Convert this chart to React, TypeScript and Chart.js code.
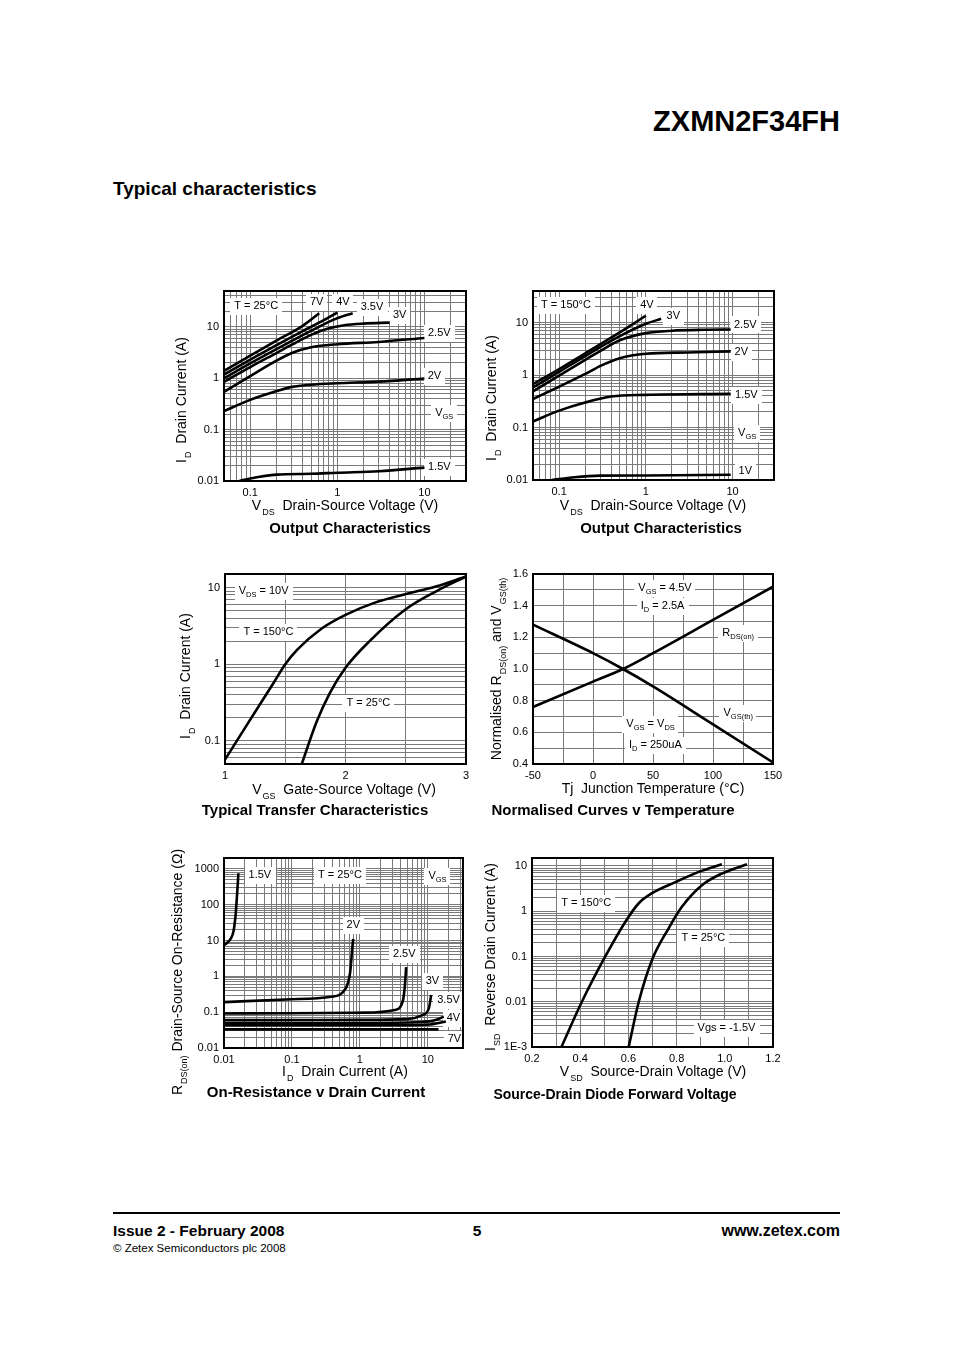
import React, { useEffect, useRef } from 'react';
import { Chart, registerables } from 'chart.js';

Chart.register(...registerables);

const FONT = '"Liberation Sans", Arial, Helvetica, sans-serif';
const GRID_COLOR = '#7a7a7a';

// ---------------- Output Characteristics, T = 25°C ----------------
const out25Vds7V = [0.05, 0.1, 0.2, 0.4, 0.62];
const out25Id7V = [1.4, 2.75, 5.4, 10.5, 18.5];
const out25Vds4V = [0.05, 0.1, 0.2, 0.4, 0.7, 1.0];
const out25Id4V = [1.18, 2.3, 4.4, 8.3, 13.5, 19];
const out25Vds35V = [0.05, 0.1, 0.2, 0.4, 0.7, 1.0, 1.5];
const out25Id35V = [1.0, 1.95, 3.7, 6.9, 11.2, 14.8, 18.5];
const out25Vds3V = [0.05, 0.1, 0.2, 0.3, 0.5, 0.8, 1.2, 2, 4];
const out25Id3V = [0.85, 1.65, 3.1, 4.5, 7.0, 9.4, 10.8, 11.6, 12.1];
const out25Vds25V = [0.05, 0.1, 0.2, 0.3, 0.5, 1, 3, 10];
const out25Id25V = [0.545, 1.1, 2.2, 3.1, 4.0, 4.6, 5.1, 6.1];
const out25Vds2V = [0.05, 0.1, 0.2, 0.3, 0.5, 1, 3, 10];
const out25Id2V = [0.23, 0.38, 0.56, 0.68, 0.75, 0.8, 0.86, 0.99];
const out25Vds15V = [0.075, 0.1, 0.2, 0.5, 1, 3, 10];
const out25Id15V = [0.01, 0.0112, 0.0133, 0.0138, 0.0145, 0.0155, 0.0182];
const out25XTicks = [0.1, 1, 10];
const out25XTickLabels = ['0.1', '1', '10'];
const out25YTicks = [0.01, 0.1, 1, 10];
const out25YTickLabels = ['0.01', '0.1', '1', '10'];

// ---------------- Output Characteristics, T = 150°C ----------------
const out150Vds4V = [0.05, 0.1, 0.2, 0.5, 1.0];
const out150Id4V = [0.67, 1.3, 2.6, 6.5, 13.5];
const out150Vds3V = [0.05, 0.1, 0.2, 0.5, 1.0, 1.5];
const out150Id3V = [0.58, 1.15, 2.3, 5.5, 9.5, 11.8];
const out150Vds25V = [0.05, 0.1, 0.2, 0.3, 0.5, 1, 2, 5, 9.5];
const out150Id25V = [0.49, 0.98, 1.95, 2.9, 4.6, 6.3, 7.0, 7.3, 7.4];
const out150Vds2V = [0.05, 0.1, 0.2, 0.3, 0.5, 1, 3, 9.5];
const out150Id2V = [0.35, 0.6, 1.05, 1.5, 2.1, 2.55, 2.7, 2.83];
const out150Vds15V = [0.05, 0.1, 0.2, 0.4, 1, 9.5];
const out150Id15V = [0.13, 0.21, 0.3, 0.39, 0.42, 0.44];
const out150Vds1V = [0.082, 0.15, 0.3, 1, 9.5];
const out150Id1V = [0.01, 0.0113, 0.0121, 0.0122, 0.0126];
const out150XTicks = [0.1, 1, 10];
const out150XTickLabels = ['0.1', '1', '10'];
const out150YTicks = [0.01, 0.1, 1, 10];
const out150YTickLabels = ['0.01', '0.1', '1', '10'];

// ---------------- Typical Transfer Characteristics ----------------
const trVgs150 = [1.0, 1.2, 1.4, 1.5, 1.6, 1.8, 2.0, 2.25, 2.5, 2.75, 3.0];
const trId150 = [0.057, 0.18, 0.56, 1.0, 1.55, 2.9, 4.4, 6.4, 8.2, 10.3, 13.9];
const trVgs25 = [1.637, 1.762, 1.873, 2.0, 2.2, 2.5, 2.76, 3.0];
const trId25 = [0.05, 0.18, 0.43, 0.9, 2.0, 5.2, 9.05, 13.9];
const trXTicks = [1, 2, 3];
const trXTickLabels = ['1', '2', '3'];
const trYTicks = [0.1, 1, 10];
const trYTickLabels = ['0.1', '1', '10'];

// ---------------- Normalised Curves v Temperature ----------------
const normTj = [-50, 0, 25, 50, 100, 150];
const normRdsOn = [0.76, 0.92, 1.0, 1.1, 1.31, 1.52];
const normVgsTh = [1.28, 1.1, 1.0, 0.89, 0.65, 0.41];
const normXTicks = [-50, 0, 50, 100, 150];
const normXTickLabels = ['-50', '0', '50', '100', '150'];
const normYTicks = [0.4, 0.6, 0.8, 1.0, 1.2, 1.4, 1.6];
const normYTickLabels = ['0.4', '0.6', '0.8', '1.0', '1.2', '1.4', '1.6'];

// ---------------- On-Resistance v Drain Current ----------------
const rdsId15V = [0.01, 0.011, 0.0125, 0.0138, 0.0148, 0.0156, 0.0163];
const rdsR15V = [7.3, 8.5, 11, 18, 50, 200, 750];
const rdsId2V = [0.01, 0.1, 0.38, 0.6, 0.72, 0.78, 0.8];
const rdsR2V = [0.19, 0.23, 0.27, 0.42, 1.3, 7.3, 11];
const rdsId25V = [0.01, 0.1, 1.2, 3.3, 4.3, 4.6, 4.8];
const rdsR25V = [0.092, 0.093, 0.097, 0.115, 0.21, 0.55, 1.8];
const rdsId3V = [0.01, 1, 5, 8, 10.4, 11.2];
const rdsR3V = [0.06, 0.061, 0.064, 0.08, 0.13, 0.3];
const rdsId35V = [0.01, 1, 8, 13, 17.2];
const rdsR35V = [0.05, 0.05, 0.053, 0.06, 0.075];
const rdsId4V = [0.01, 1, 10, 18.5];
const rdsR4V = [0.043, 0.043, 0.045, 0.055];
const rdsId7V = [0.01, 1, 14.4];
const rdsR7V = [0.033, 0.033, 0.033];
const rdsXTicks = [0.01, 0.1, 1, 10];
const rdsXTickLabels = ['0.01', '0.1', '1', '10'];
const rdsYTicks = [0.01, 0.1, 1, 10, 100, 1000];
const rdsYTickLabels = ['0.01', '0.1', '1', '10', '100', '1000'];

// ---------------- Source-Drain Diode Forward Voltage ----------------
const sdVsd150 = [0.322, 0.407, 0.504, 0.587, 0.643, 0.698, 0.795, 0.892, 0.988];
const sdIsd150 = [0.001, 0.01, 0.1, 0.58, 1.5, 2.5, 4.4, 7.4, 10.9];
const sdVsd25 = [0.601, 0.643, 0.698, 0.767, 0.822, 0.905, 0.988, 1.092];
const sdIsd25 = [0.001, 0.01, 0.084, 0.42, 1.25, 3.75, 6.8, 10.9];
const sdXTicks = [0.2, 0.4, 0.6, 0.8, 1.0, 1.2];
const sdXTickLabels = ['0.2', '0.4', '0.6', '0.8', '1.0', '1.2'];
const sdYTicks = [0.001, 0.01, 0.1, 1, 10];
const sdYTickLabels = ['1E-3', '0.01', '0.1', '1', '10'];

// ---------------- helpers ----------------
type Lbl = { x: number; y: number; t: string };
type Series = { x: number[]; y: number[] };
type AxisSpec = {
  type: 'linear' | 'logarithmic';
  min: number;
  max: number;
  grid: number[];
  ticks: number[];
  labels: string[];
};
type Spec = {
  area: [number, number, number, number];
  x: AxisSpec;
  y: AxisSpec;
  series: Series[];
  notes: Lbl[];
};

function logGrid(min: number, max: number): number[] {
  const out: number[] = [];
  for (let e = Math.floor(Math.log10(min)) - 1; e <= Math.ceil(Math.log10(max)); e++) {
    for (let k = 1; k <= 9; k++) {
      const v = parseFloat((k * Math.pow(10, e)).toPrecision(6));
      if (v >= min * (1 - 1e-9) && v <= max * (1 + 1e-9)) out.push(v);
    }
  }
  return out;
}
function linGrid(min: number, max: number, step: number): number[] {
  const out: number[] = [];
  for (let v = min; v <= max + 1e-9; v += step) out.push(parseFloat(v.toFixed(6)));
  return out;
}
function labelFor(value: number, vals: number[], labels: string[]): string {
  for (let i = 0; i < vals.length; i++) {
    if (Math.abs(vals[i] - value) <= 1e-9 + 1e-6 * Math.abs(vals[i])) return labels[i];
  }
  return '';
}
function pts(xs: number[], ys: number[]) {
  return xs.map((x, i) => ({ x, y: ys[i] }));
}
function splitSub(t: string) {
  const out: { s: string; sub: boolean; w: number }[] = [];
  const re = /_\{([^}]*)\}/g;
  let last = 0;
  let m: RegExpExecArray | null;
  while ((m = re.exec(t))) {
    if (m.index > last) out.push({ s: t.slice(last, m.index), sub: false, w: 0 });
    out.push({ s: m[1], sub: true, w: 0 });
    last = re.lastIndex;
  }
  if (last < t.length) out.push({ s: t.slice(last), sub: false, w: 0 });
  return out;
}
function drawRich(ctx: CanvasRenderingContext2D, text: string, cx: number, cy: number) {
  const parts = splitSub(text);
  const mainF = `11px ${FONT}`;
  const subF = `7.5px ${FONT}`;
  let w = 0;
  parts.forEach((p) => {
    ctx.font = p.sub ? subF : mainF;
    p.w = ctx.measureText(p.s).width;
    w += p.w;
  });
  ctx.fillStyle = '#fff';
  ctx.fillRect(Math.round(cx - w / 2 - 4), Math.round(cy - 8), Math.round(w + 8), 17);
  ctx.fillStyle = '#000';
  ctx.textBaseline = 'middle';
  ctx.textAlign = 'left';
  let x = cx - w / 2;
  parts.forEach((p) => {
    ctx.font = p.sub ? subF : mainF;
    ctx.fillText(p.s, x, p.sub ? cy + 4 : cy);
    x += p.w;
  });
}

const PAD_L = 56;
const PAD_T = 10;
const PAD_R = 18;
const PAD_B = 26;

function axisOptions(a: AxisSpec, isX: boolean) {
  return {
    type: a.type,
    min: a.min,
    max: a.max,
    grid: { color: GRID_COLOR, lineWidth: 1, drawTicks: false },
    border: { display: false },
    ticks: {
      autoSkip: false,
      maxRotation: 0,
      minRotation: 0,
      padding: 5,
      color: '#000',
      font: { family: FONT, size: 11 },
      callback: (v: any) => labelFor(Number(v), a.ticks, a.labels),
    },
    afterBuildTicks: (s: any) => {
      s.ticks = a.grid.map((v) => ({ value: v }));
    },
    afterFit: (s: any) => {
      if (isX) s.height = PAD_B;
      else s.width = PAD_L;
      s.paddingLeft = 0;
      s.paddingRight = 0;
      s.paddingTop = 0;
      s.paddingBottom = 0;
    },
  };
}

function buildConfig(spec: Spec): any {
  const overlay = {
    id: 'overlay',
    beforeDatasetsDraw(chart: any) {
      const ctx = chart.ctx as CanvasRenderingContext2D;
      ctx.save();
      spec.notes.forEach((n) =>
        drawRich(ctx, n.t, chart.scales.x.getPixelForValue(n.x), chart.scales.y.getPixelForValue(n.y))
      );
      ctx.restore();
    },
    afterDraw(chart: any) {
      const { left, top, right, bottom } = chart.chartArea;
      const ctx = chart.ctx as CanvasRenderingContext2D;
      ctx.save();
      ctx.strokeStyle = '#000';
      ctx.lineWidth = 2;
      ctx.strokeRect(left, top, right - left, bottom - top);
      ctx.restore();
    },
  };
  return {
    type: 'line',
    data: {
      datasets: spec.series.map((s) => ({
        data: pts(s.x, s.y),
        borderColor: '#000',
        borderWidth: 2.6,
        pointRadius: 0,
        fill: false,
        cubicInterpolationMode: 'monotone',
      })),
    },
    options: {
      responsive: false,
      maintainAspectRatio: false,
      animation: false,
      devicePixelRatio: 1,
      events: [],
      layout: { padding: { left: 0, top: PAD_T, right: PAD_R, bottom: 0 } },
      plugins: { legend: { display: false }, tooltip: { enabled: false }, title: { display: false } },
      scales: { x: axisOptions(spec.x, true), y: axisOptions(spec.y, false) },
    },
    plugins: [overlay],
  };
}

const specOut25: Spec = {
  area: [224, 291, 466, 481],
  x: { type: 'logarithmic', min: 0.05, max: 30, grid: logGrid(0.05, 30), ticks: out25XTicks, labels: out25XTickLabels },
  y: { type: 'logarithmic', min: 0.01, max: 50, grid: logGrid(0.01, 50), ticks: out25YTicks, labels: out25YTickLabels },
  series: [
    { x: out25Vds7V, y: out25Id7V },
    { x: out25Vds4V, y: out25Id4V },
    { x: out25Vds35V, y: out25Id35V },
    { x: out25Vds3V, y: out25Id3V },
    { x: out25Vds25V, y: out25Id25V },
    { x: out25Vds2V, y: out25Id2V },
    { x: out25Vds15V, y: out25Id15V },
  ],
  notes: [
    { x: 0.117, y: 25, t: 'T = 25°C' },
    { x: 0.58, y: 30, t: '7V' },
    { x: 1.16, y: 31, t: '4V' },
    { x: 2.5, y: 24, t: '3.5V' },
    { x: 5.2, y: 17, t: '3V' },
    { x: 14.8, y: 7.5, t: '2.5V' },
    { x: 13, y: 1.1, t: '2V' },
    { x: 16.9, y: 0.21, t: 'V_{GS}' },
    { x: 14.8, y: 0.0186, t: '1.5V' },
  ],
};

const specOut150: Spec = {
  area: [533, 291, 774, 480],
  x: { type: 'logarithmic', min: 0.05, max: 30, grid: logGrid(0.05, 30), ticks: out150XTicks, labels: out150XTickLabels },
  y: { type: 'logarithmic', min: 0.01, max: 40, grid: logGrid(0.01, 40), ticks: out150YTicks, labels: out150YTickLabels },
  series: [
    { x: out150Vds4V, y: out150Id4V },
    { x: out150Vds3V, y: out150Id3V },
    { x: out150Vds25V, y: out150Id25V },
    { x: out150Vds2V, y: out150Id2V },
    { x: out150Vds15V, y: out150Id15V },
    { x: out150Vds1V, y: out150Id1V },
  ],
  notes: [
    { x: 0.12, y: 22, t: 'T = 150°C' },
    { x: 1.03, y: 22, t: '4V' },
    { x: 2.07, y: 13.6, t: '3V' },
    { x: 14, y: 9.2, t: '2.5V' },
    { x: 12.6, y: 2.77, t: '2V' },
    { x: 14.4, y: 0.41, t: '1.5V' },
    { x: 14.7, y: 0.08, t: 'V_{GS}' },
    { x: 14, y: 0.0148, t: '1V' },
  ],
};

const specTransfer: Spec = {
  area: [225, 574, 466, 764],
  x: { type: 'linear', min: 1, max: 3, grid: linGrid(1, 3, 0.5), ticks: trXTicks, labels: trXTickLabels },
  y: { type: 'logarithmic', min: 0.05, max: 15, grid: logGrid(0.05, 15), ticks: trYTicks, labels: trYTickLabels },
  series: [
    { x: trVgs150, y: trId150 },
    { x: trVgs25, y: trId25 },
  ],
  notes: [
    { x: 1.32, y: 8.95, t: 'V_{DS} = 10V' },
    { x: 1.36, y: 2.62, t: 'T = 150°C' },
    { x: 2.19, y: 0.31, t: 'T = 25°C' },
  ],
};

const specNorm: Spec = {
  area: [533, 574, 773, 764],
  x: { type: 'linear', min: -50, max: 150, grid: linGrid(-50, 150, 25), ticks: normXTicks, labels: normXTickLabels },
  y: { type: 'linear', min: 0.4, max: 1.6, grid: linGrid(0.4, 1.6, 0.1), ticks: normYTicks, labels: normYTickLabels },
  series: [
    { x: normTj, y: normRdsOn },
    { x: normTj, y: normVgsTh },
  ],
  notes: [
    { x: 60, y: 1.51, t: 'V_{GS} = 4.5V' },
    { x: 58, y: 1.4, t: 'I_{D} = 2.5A' },
    { x: 121, y: 1.23, t: 'R_{DS(on)}' },
    { x: 121, y: 0.72, t: 'V_{GS(th)}' },
    { x: 48, y: 0.65, t: 'V_{GS} = V_{DS}' },
    { x: 52, y: 0.52, t: 'I_{D} = 250uA' },
  ],
};

const specRds: Spec = {
  area: [224, 858, 463, 1048],
  x: { type: 'logarithmic', min: 0.01, max: 33, grid: logGrid(0.01, 33), ticks: rdsXTicks, labels: rdsXTickLabels },
  y: { type: 'logarithmic', min: 0.01, max: 2000, grid: logGrid(0.01, 2000), ticks: rdsYTicks, labels: rdsYTickLabels },
  series: [
    { x: rdsId15V, y: rdsR15V },
    { x: rdsId2V, y: rdsR2V },
    { x: rdsId25V, y: rdsR25V },
    { x: rdsId3V, y: rdsR3V },
    { x: rdsId35V, y: rdsR35V },
    { x: rdsId4V, y: rdsR4V },
    { x: rdsId7V, y: rdsR7V },
  ],
  notes: [
    { x: 0.0337, y: 678, t: '1.5V' },
    { x: 0.51, y: 678, t: 'T = 25°C' },
    { x: 13.9, y: 636, t: 'V_{GS}' },
    { x: 0.8, y: 26.5, t: '2V' },
    { x: 4.5, y: 4.3, t: '2.5V' },
    { x: 11.7, y: 0.75, t: '3V' },
    { x: 20.2, y: 0.22, t: '3.5V' },
    { x: 23.9, y: 0.068, t: '4V' },
    { x: 24.7, y: 0.0178, t: '7V' },
  ],
};

const specDiode: Spec = {
  area: [532, 858, 773, 1047],
  x: { type: 'linear', min: 0.2, max: 1.2, grid: linGrid(0.2, 1.2, 0.1), ticks: sdXTicks, labels: sdXTickLabels },
  y: { type: 'logarithmic', min: 0.001, max: 15, grid: logGrid(0.001, 15), ticks: sdYTicks, labels: sdYTickLabels },
  series: [
    { x: sdVsd150, y: sdIsd150 },
    { x: sdVsd25, y: sdIsd25 },
  ],
  notes: [
    { x: 0.425, y: 1.5, t: 'T = 150°C' },
    { x: 0.911, y: 0.253, t: 'T = 25°C' },
    { x: 1.007, y: 0.00262, t: 'Vgs = -1.5V' },
  ],
};

function PlotChart({ spec }: { spec: Spec }) {
  const ref = useRef<HTMLCanvasElement>(null);
  const [l, t, r, b] = spec.area;
  const cw = r - l + PAD_L + PAD_R;
  const ch = b - t + PAD_T + PAD_B;
  useEffect(() => {
    const chart = new Chart(ref.current as HTMLCanvasElement, buildConfig(spec));
    return () => chart.destroy();
  }, [spec]);
  return (
    <canvas
      ref={ref}
      width={cw}
      height={ch}
      style={{ position: 'absolute', left: l - PAD_L, top: t - PAD_T, width: cw, height: ch }}
    />
  );
}

function Txt(props: {
  x: number;
  y: number;
  size?: number;
  bold?: boolean;
  align?: 'left' | 'center' | 'right';
  rotate?: boolean;
  children: React.ReactNode;
}) {
  const { x, y, size = 14, bold = false, align = 'center', rotate = false, children } = props;
  const tx = align === 'center' ? '-50%' : align === 'right' ? '-100%' : '0';
  const transform = `translate(${tx}, -50%)` + (rotate ? ' rotate(-90deg)' : '');
  return (
    <div
      style={{
        position: 'absolute',
        left: x,
        top: y,
        transform,
        whiteSpace: 'nowrap',
        fontSize: size,
        fontWeight: bold ? 700 : 400,
        lineHeight: `${size}px`,
        fontFamily: FONT,
        color: '#000',
      }}
    >
      {children}
    </div>
  );
}

function Sub({ children }: { children: React.ReactNode }) {
  return (
    <span style={{ fontSize: 9, verticalAlign: '-5px', lineHeight: 0, marginLeft: 1 }}>{children}</span>
  );
}

const SP = '\u00a0\u00a0';

export default function App() {
  return (
    <div
      style={{
        position: 'absolute',
        left: 0,
        top: 0,
        width: 954,
        height: 1350,
        background: '#fff',
        overflow: 'hidden',
        fontFamily: FONT,
      }}
    >
      <Txt x={840} y={121} size={29} bold align="right">ZXMN2F34FH</Txt>
      <Txt x={113} y={188} size={19} bold align="left">Typical characteristics</Txt>

      <PlotChart spec={specOut25} />
      <PlotChart spec={specOut150} />
      <PlotChart spec={specTransfer} />
      <PlotChart spec={specNorm} />
      <PlotChart spec={specRds} />
      <PlotChart spec={specDiode} />

      {/* Chart 1 texts */}
      <Txt x={181} y={400} rotate>I<Sub>D</Sub>{SP}Drain Current (A)</Txt>
      <Txt x={345} y={505}>V<Sub>DS</Sub>{SP}Drain-Source Voltage (V)</Txt>
      <Txt x={350} y={527} size={15} bold>Output Characteristics</Txt>

      {/* Chart 2 texts */}
      <Txt x={491} y={398} rotate>I<Sub>D</Sub>{SP}Drain Current (A)</Txt>
      <Txt x={653} y={505}>V<Sub>DS</Sub>{SP}Drain-Source Voltage (V)</Txt>
      <Txt x={661} y={527} size={15} bold>Output Characteristics</Txt>

      {/* Chart 3 texts */}
      <Txt x={185} y={676} rotate>I<Sub>D</Sub>{SP}Drain Current (A)</Txt>
      <Txt x={344} y={789}>V<Sub>GS</Sub>{SP}Gate-Source Voltage (V)</Txt>
      <Txt x={315} y={809} size={15} bold>Typical Transfer Characteristics</Txt>

      {/* Chart 4 texts */}
      <Txt x={496} y={669} rotate>Normalised R<Sub>DS(on)</Sub> and V<Sub>GS(th)</Sub></Txt>
      <Txt x={653} y={788}>Tj{SP}Junction Temperature (°C)</Txt>
      <Txt x={613} y={809} size={15} bold>Normalised Curves v Temperature</Txt>

      {/* Chart 5 texts */}
      <Txt x={177} y={972} rotate>R<Sub>DS(on)</Sub> Drain-Source On-Resistance (Ω)</Txt>
      <Txt x={345} y={1071}>I<Sub>D</Sub>{SP}Drain Current (A)</Txt>
      <Txt x={316} y={1091} size={15} bold>On-Resistance v Drain Current</Txt>

      {/* Chart 6 texts */}
      <Txt x={490} y={957} rotate>I<Sub>SD</Sub>{SP}Reverse Drain Current (A)</Txt>
      <Txt x={653} y={1071}>V<Sub>SD</Sub>{SP}Source-Drain Voltage (V)</Txt>
      <Txt x={615} y={1094} size={14} bold>Source-Drain Diode Forward Voltage</Txt>

      {/* Footer */}
      <div style={{ position: 'absolute', left: 113, top: 1212, width: 727, height: 2, background: '#000' }} />
      <Txt x={113} y={1231} size={15.5} bold align="left">Issue 2 - February 2008</Txt>
      <Txt x={477} y={1231} size={15.5} bold>5</Txt>
      <Txt x={840} y={1231} size={16} bold align="right">www.zetex.com</Txt>
      <Txt x={113} y={1249} size={11.5} align="left">© Zetex Semiconductors plc 2008</Txt>
    </div>
  );
}
